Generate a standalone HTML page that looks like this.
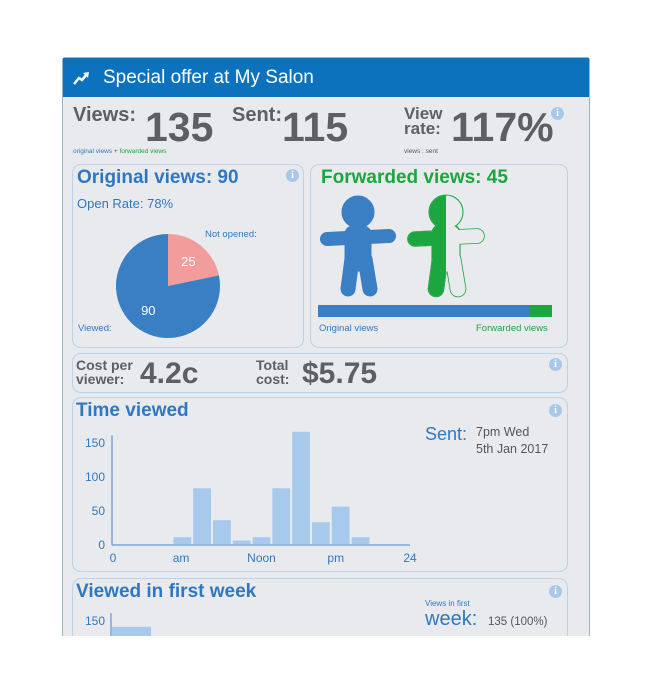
<!DOCTYPE html>
<html><head><meta charset="utf-8">
<style>
*{margin:0;padding:0;box-sizing:border-box}
html,body{width:670px;height:676px;overflow:hidden}
body{background:#fff;font-family:"Liberation Sans",sans-serif;position:relative}
.abs{position:absolute}
#outer{left:62px;top:57px;width:528px;height:590px;background:#e9eaee;border:1px solid #9fb3c8;border-radius:3px}
#cut{left:0;top:636px;width:670px;height:40px;background:#fff}
#hdr{left:63px;top:58px;width:526px;height:39px;background:#0c72bd}
.panel{position:absolute;border:1.5px solid #bcd1ea;border-radius:9px}
.gray{color:#5e5f62;font-weight:bold}
.blue{color:#2f78c1}
.green{color:#1ba63f}
.info{position:absolute;width:13px;height:13px;border-radius:50%;background:#a8c8ea;color:#fff;font:bold 10px "Liberation Serif",serif;text-align:center;line-height:13px}
</style></head><body>
<div class="abs" id="outer"></div>
<div class="abs" id="hdr">
 <svg class="abs" style="left:9px;top:13px" width="18" height="14"><path d="M2 13 L7 7 L10 9 L15 3" stroke="#fff" stroke-width="2.5" fill="none"/><path d="M11 2 L17 1 L16 7 Z" fill="#fff"/></svg>
 <div class="abs" style="left:40px;top:9px;font-size:19px;color:#fff">Special offer at My Salon</div>
</div>

<div class="abs gray" style="left:73px;top:104px;font-size:20px">Views:</div>
<div class="abs gray" style="left:145px;top:104px;font-size:41px">135</div>
<div class="abs gray" style="left:232px;top:104px;font-size:20px">Sent:</div>
<div class="abs gray" style="left:282px;top:104px;font-size:41px">115</div>
<div class="abs gray" style="left:404px;top:106px;font-size:17px;line-height:15px">View<br>rate:</div>
<div class="abs gray" style="left:451px;top:104px;font-size:41px">117%</div>
<div class="info" style="left:551px;top:107px">i</div>
<div class="abs" style="left:73px;top:148px;font-size:6.5px"><span class="blue">original views</span> <span style="color:#555">+</span> <span class="green">forwarded views</span></div>
<div class="abs" style="left:404px;top:148px;font-size:6.5px;color:#555">views : sent</div>

<div class="panel" style="left:72px;top:164px;width:232px;height:184px">
 <div class="abs blue" style="left:4px;top:2px;font-size:19px;font-weight:bold">Original views: 90</div>
 <div class="info" style="left:213px;top:4px">i</div>
 <div class="abs blue" style="left:4px;top:31px;font-size:13px">Open Rate: 78%</div>
 <div class="abs blue" style="left:132px;top:64px;font-size:9.5px">Not opened:</div>
 <div class="abs blue" style="left:5px;top:158px;font-size:9.5px">Viewed:</div>
 <svg class="abs" style="left:0;top:0" width="230" height="182" id="pie"></svg>
</div>

<div class="panel" style="left:310px;top:164px;width:258px;height:184px">
 <div class="abs green" style="left:10px;top:2px;font-size:19px;font-weight:bold">Forwarded views: 45</div>
 <svg class="abs" style="left:-1px;top:-1px" width="258" height="184">
  <defs>
   <g id="man">
    <circle cx="48" cy="48" r="16"/>
    <line x1="17" y1="75" x2="79" y2="72" stroke-width="14" stroke-linecap="round"/>
    <rect x="35" y="62" width="26" height="45" rx="8"/>
    <line x1="42" y1="95" x2="38" y2="125" stroke-width="15" stroke-linecap="round"/>
    <line x1="55" y1="95" x2="60" y2="125" stroke-width="15" stroke-linecap="round"/>
   </g>
   <clipPath id="half"><rect x="0" y="0" width="48" height="184"/></clipPath>
  </defs>
  <g fill="#3a7ec4" stroke="#3a7ec4"><use href="#man"/></g>
  <g transform="translate(88,0)" fill="#1ba63f" stroke="#1ba63f" stroke-width="1.5"><circle cx="48" cy="48" r="16.8"/><line x1="17" y1="75" x2="79" y2="72" stroke-width="15.6" stroke-linecap="round"/><rect x="34.2" y="61" width="27.6" height="46" rx="8"/><line x1="42" y1="95" x2="38" y2="125" stroke-width="16.6" stroke-linecap="round"/><line x1="55" y1="95" x2="60" y2="125" stroke-width="16.6" stroke-linecap="round"/></g>
  <g transform="translate(88,0)" fill="#e9eaee" stroke="#e9eaee"><use href="#man"/></g>
  <g transform="translate(88,0)" fill="#1ba63f" stroke="#1ba63f" clip-path="url(#half)"><use href="#man"/></g>
  <rect x="8" y="141" width="212" height="12" fill="#3a7ec4"/>
  <rect x="220" y="141" width="22" height="12" fill="#1ba63f"/>
 </svg>
 <div class="abs blue" style="left:8px;top:158px;font-size:9.5px">Original views</div>
 <div class="abs green" style="left:165px;top:158px;font-size:9.5px">Forwarded views</div>
</div>

<div class="panel" style="left:72px;top:353px;width:496px;height:40px">
 <div class="abs gray" style="left:3px;top:4px;font-size:14px;line-height:14px">Cost per<br>viewer:</div>
 <div class="abs gray" style="left:67px;top:3px;font-size:30px">4.2c</div>
 <div class="abs gray" style="left:183px;top:4px;font-size:14px;line-height:14px">Total<br>cost:</div>
 <div class="abs gray" style="left:229px;top:3px;font-size:30px">$5.75</div>
 <div class="info" style="left:476px;top:4px">i</div>
</div>

<div class="panel" style="left:72px;top:397px;width:496px;height:175px">
 <div class="abs blue" style="left:3px;top:2px;font-size:19px;font-weight:bold">Time viewed</div>
 <div class="info" style="left:476px;top:6px">i</div>
 <div class="abs blue" style="left:352px;top:26px;font-size:18px">Sent:</div>
 <div class="abs" style="left:403px;top:26px;font-size:12.5px;color:#555;line-height:17px">7pm Wed<br>5th Jan 2017</div>
</div>
<svg class="abs" style="left:0;top:0" width="670" height="636" id="hist"></svg>

<div class="panel" style="left:72px;top:578px;width:496px;height:66px">
 <div class="abs blue" style="left:3px;top:2px;font-size:19px;font-weight:bold">Viewed in first week</div>
 <div class="info" style="left:476px;top:6px">i</div>
 <div class="abs blue" style="left:352px;top:20px;font-size:8px">Views in first</div>
 <div class="abs blue" style="left:352px;top:29px;font-size:20px">week:</div>
 <div class="abs" style="left:415px;top:37px;font-size:11.5px;color:#555">135 (100%)</div>
</div>
<svg class="abs" style="left:0;top:0" width="670" height="636" id="week"></svg>
<div class="abs" id="cut"></div>

<script>
const NS='http://www.w3.org/2000/svg';
const pieLabels=['Viewed','Not opened'];
const pieValues=[90,25];
const histValues=[0,0,0,10,82,35,5,10,82,165,32,55,10,0,0];
const histTicks=[0,50,100,150];
const histXLabels=['0','am','Noon','pm','24'];
const histXPos=[0,5.5,12,18,24];
const weekValues=[140];
const weekTicks=[150];
function mk(p,t,a){const e=document.createElementNS(NS,t);for(const k in a)e.setAttribute(k,a[k]);p.appendChild(e);return e;}
(function(){
 const svg=document.getElementById('pie');
 const cx=95,cy=121,r=52;const tot=pieValues.reduce((a,b)=>a+b,0);
 const cols=['#3a7ec4','#f29d9b'];
 let start=0;const order=[1,0];
 order.forEach(i=>{
  const a0=start/tot*2*Math.PI,a1=(start+pieValues[i])/tot*2*Math.PI;start+=pieValues[i];
  const x0=cx+r*Math.sin(a0),y0=cy-r*Math.cos(a0),x1=cx+r*Math.sin(a1),y1=cy-r*Math.cos(a1);
  const p=mk(svg,'path',{d:`M${cx} ${cy} L${x0} ${y0} A${r} ${r} 0 ${a1-a0>Math.PI?1:0} 1 ${x1} ${y1} Z`,fill:cols[i]});
  
  
  const am=(a0+a1)/2,lr=i?r*0.62:r*0.6;
  const t=mk(svg,'text',{x:cx+lr*Math.sin(am),y:cy-lr*Math.cos(am)+5,fill:'#fff','font-size':13,'text-anchor':'middle'});
  t.textContent=pieValues[i];
  
  
 });
})();
(function(){
 const svg=document.getElementById('hist');
 const x0=113,x1=410,y0=544,ppu=0.68;
 const xs=h=>x0+h/24*(x1-x0),ys=v=>y0-v*ppu;
 const bw=(x1-x0)/histValues.length;
 histValues.forEach((v,i)=>{if(!v)return;
  const b=mk(svg,'rect',{x:x0+i*bw+1,y:ys(v),width:bw-2,height:v*ppu,fill:'#a7c9ec'});
  
  
 });
 mk(svg,'line',{x1:x0-1,y1:ys(160),x2:x0-1,y2:y0+1,stroke:'#7aa8dc','stroke-width':1.5});
 mk(svg,'line',{x1:x0-1,y1:y0+1,x2:x1,y2:y0+1,stroke:'#7aa8dc','stroke-width':1.5});
 histTicks.forEach(v=>{const t=mk(svg,'text',{x:x0-8,y:ys(v)+5,fill:'#2f78c1','font-size':12,'text-anchor':'end'});t.textContent=v;
  
  });
 histXLabels.forEach((l,i)=>{const t=mk(svg,'text',{x:xs(histXPos[i]),y:562,fill:'#2f78c1','font-size':12,'text-anchor':'middle'});t.textContent=l;
  
  });
})();
(function(){
 const svg=document.getElementById('week');
 const x0=112,y0=722,ppu=0.68;const ys=v=>y0-v*ppu;
 weekValues.forEach((v,i)=>{const b=mk(svg,'rect',{x:x0+i*40,y:ys(v),width:39,height:v*ppu,fill:'#a7c9ec'});
  
  });
 mk(svg,'line',{x1:x0-1,y1:ys(160),x2:x0-1,y2:y0,stroke:'#7aa8dc','stroke-width':1.5});
 weekTicks.forEach(v=>{const t=mk(svg,'text',{x:x0-7,y:ys(v)+5,fill:'#2f78c1','font-size':12,'text-anchor':'end'});t.textContent=v;
  
  });
})();
</script>
</body></html>
